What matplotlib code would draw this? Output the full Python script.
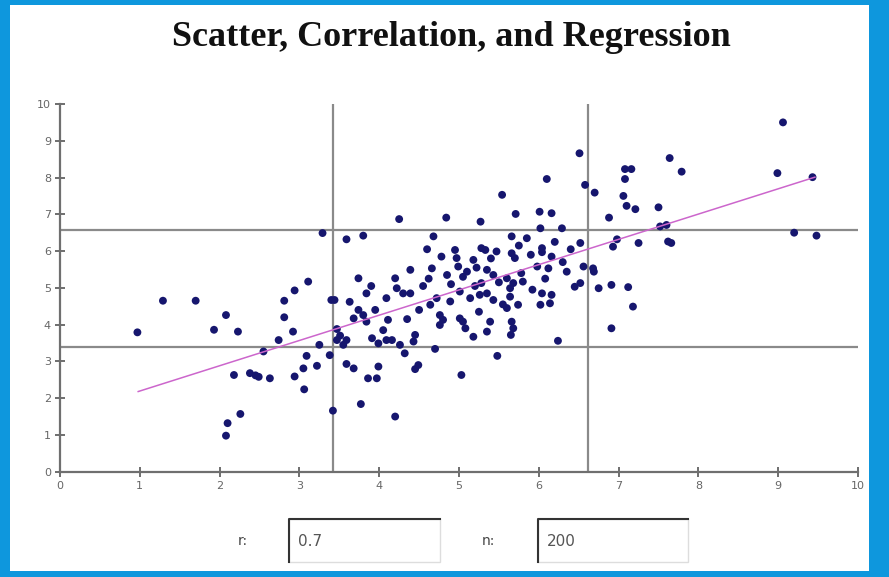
import matplotlib
matplotlib.use("Agg")
import matplotlib.pyplot as plt
from matplotlib.patches import Rectangle
from matplotlib.lines import Line2D

# ---------------- data ----------------
x_vals = [0.97, 1.29, 1.70, 1.93, 2.08, 2.08, 2.10, 2.26, 2.23, 2.18,
          2.38, 2.45, 2.49, 2.63, 2.55, 2.74, 2.81, 2.81, 2.92, 2.94,
          2.94, 3.05, 3.06, 3.09, 3.11, 3.22, 3.25, 3.29, 3.38, 3.40,
          3.44, 3.42, 3.47, 3.51, 3.59, 3.47, 3.55, 3.59, 3.59, 3.63,
          3.68, 3.68, 3.74, 3.74, 3.77, 3.80, 3.80, 3.84, 3.84, 3.86,
          3.91, 3.95, 3.97, 3.99, 3.99, 4.09, 4.09, 4.11, 4.16, 4.20,
          4.20, 4.22, 4.25, 4.26, 4.30, 4.32, 4.39, 4.39, 4.43, 4.45,
          4.45, 4.49, 4.64, 4.66, 4.68, 4.70, 4.72, 4.76, 4.76, 4.80,
          4.78, 4.84, 4.89, 4.95, 4.97, 4.99, 5.01, 5.01, 5.03, 5.05,
          5.08, 5.10, 5.14, 5.18, 5.18, 5.26, 5.27, 5.28, 5.28, 5.33,
          5.35, 5.35, 5.35, 5.39, 5.43, 5.43, 5.47, 5.48, 5.54, 5.60,
          5.60, 5.64, 5.64, 5.66, 5.66, 5.66, 5.65, 5.68, 5.68, 5.70,
          5.71, 5.74, 5.78, 5.80, 5.85, 5.98, 6.01, 6.02, 6.02, 6.04,
          6.04, 6.04, 6.10, 6.12, 6.14, 6.16, 6.16, 6.16, 6.24, 6.29,
          6.35, 6.45, 6.51, 6.52, 6.52, 6.56, 6.58, 6.68, 6.69, 6.70,
          6.75, 6.88, 6.91, 6.91, 6.93, 6.98, 7.06, 7.08, 7.16, 7.08,
          7.10, 7.12, 7.18, 7.21, 7.25, 7.50, 7.52, 7.60, 7.62, 7.66,
          7.64, 7.79, 8.99, 9.06, 9.20, 9.43, 9.48,
          4.55, 4.62, 4.85, 4.90, 5.05, 5.20, 5.22, 5.40, 5.50, 5.55,
          5.75, 5.90, 5.92, 6.08, 6.20, 6.30, 4.50, 4.35, 3.90, 4.05,
          5.25, 6.40, 4.60]
y_vals = [3.79, 4.65, 4.65, 3.86, 4.26, 0.98, 1.32, 1.57, 3.81, 2.63,
          2.68, 2.62, 2.58, 2.54, 3.27, 3.58, 4.65, 4.20, 3.81, 4.93,
          2.59, 2.81, 2.24, 3.15, 5.17, 2.88, 3.45, 6.49, 3.17, 4.67,
          4.67, 1.66, 3.88, 3.70, 3.58, 3.58, 3.45, 6.32, 2.93, 4.62,
          2.81, 4.17, 5.26, 4.40, 1.84, 6.42, 4.26, 4.85, 4.08, 2.54,
          3.63, 4.40, 2.54, 3.49, 2.86, 4.72, 3.58, 4.13, 3.58, 5.26,
          1.50, 4.99, 6.87, 3.45, 4.85, 3.22, 4.85, 5.49, 3.54, 3.72,
          2.79, 2.90, 4.54, 5.53, 6.40, 3.34, 4.72, 4.26, 3.99, 4.13,
          5.85, 6.91, 4.63, 6.03, 5.81, 5.58, 4.90, 4.17, 2.63, 4.08,
          3.90, 5.44, 4.72, 5.76, 3.67, 4.81, 6.80, 6.08, 5.13, 6.03,
          5.49, 4.85, 3.81, 4.08, 5.35, 4.67, 5.99, 3.15, 7.53, 5.26,
          4.45, 4.99, 4.76, 6.40, 5.94, 4.08, 3.72, 3.90, 5.13, 5.81,
          7.01, 4.54, 5.40, 5.17, 6.35, 5.58, 7.07, 6.62, 4.54, 6.08,
          5.97, 4.85, 7.96, 5.53, 4.58, 7.03, 5.85, 4.81, 3.56, 6.62,
          5.44, 5.03, 8.66, 6.22, 5.13, 5.58, 7.80, 5.53, 5.44, 7.59,
          4.99, 6.91, 5.08, 3.90, 6.12, 6.32, 7.50, 8.23, 8.23, 7.96,
          7.23, 5.02, 4.49, 7.14, 6.22, 7.19, 6.67, 6.71, 6.26, 6.22,
          8.53, 8.16, 8.12, 9.50, 6.50, 8.01, 6.42,
          5.05, 5.25, 5.35, 5.10, 5.30, 5.05, 5.55, 5.80, 5.15, 4.55,
          6.15, 5.90, 4.95, 5.25, 6.25, 5.70, 4.40, 4.15, 5.05, 3.85,
          4.35, 6.05, 6.05]

sd_x = [3.42, 6.62]          # vertical reference lines
sd_y = [3.40, 6.58]          # horizontal reference lines
reg_x = [0.98, 9.46]         # regression line ends
reg_y = [2.18, 8.01]
ticks = list(range(0, 11))
title = "Scatter, Correlation, and Regression"
r_value = "0.7"
n_value = "200"

# ---------------- figure ----------------
W, H = 889, 577
fig = plt.figure(figsize=(W / 100, H / 100), dpi=100)
fig.patch.set_facecolor("#0e97dd")


def fx(px):
    return px / W


def fy(py):
    return 1 - py / H


# white panel
fig.patches.append(Rectangle((fx(10), fy(571)), fx(869) - fx(10), fy(5) - fy(571),
                             transform=fig.transFigure, facecolor="white",
                             edgecolor="none", zorder=-5))

fig.text(fx(451), fy(37), title, ha="center", va="center",
         family="Liberation Serif", fontweight="bold", fontsize=26, color="#111111")

ax = fig.add_axes([fx(60), fy(471.7), fx(858) - fx(60), fy(104) - fy(471.7)])
ax.set_zorder(3)
ax.set_facecolor("none")
ax.set_xlim(0, 10)
ax.set_ylim(0, 10)

grey = "#8a8a8a"
for v in sd_x:
    ax.axvline(v, color=grey, lw=1.6, zorder=1)
for h in sd_y:
    ax.axhline(h, color=grey, lw=1.6, zorder=1)

ax.scatter(x_vals, y_vals, s=32, color="#16166e", edgecolors="none", zorder=3,
           clip_on=False)
ax.plot(reg_x, reg_y, color="#cc66cc", lw=1.1, zorder=4)

for side in ["top", "right"]:
    ax.spines[side].set_visible(False)
for side in ["left", "bottom"]:
    ax.spines[side].set_color("#6f6f6f")
    ax.spines[side].set_linewidth(1.6)

ax.set_xticks(ticks)
ax.set_yticks(ticks)
ax.set_xticklabels([str(t) for t in ticks])
ax.set_yticklabels([str(t) for t in ticks])
ax.tick_params(direction="inout", length=7, width=1.2, color="#555555",
               labelsize=8, labelcolor="#666666", pad=3)

# bottom input boxes
def field(label, lx, bx0, bx1, value):
    fig.text(fx(lx), fy(541), label, ha="center", va="center",
             family="DejaVu Sans", fontsize=10, color="#444444")
    y0, y1 = 519, 562
    fig.patches.append(Rectangle((fx(bx0), fy(y1)), fx(bx1) - fx(bx0), fy(y0) - fy(y1),
                                 transform=fig.transFigure, facecolor="white",
                                 edgecolor="#dddddd", lw=1.0, zorder=1))
    fig.lines.append(Line2D([fx(bx0), fx(bx0), fx(bx1)], [fy(y1), fy(y0), fy(y0)],
                            transform=fig.transFigure, color="#333333", lw=1.5,
                            zorder=2))
    fig.text(fx(bx0 + 9), fy(541), value, ha="left", va="center",
             family="DejaVu Sans", fontsize=11, color="#555555")


field("r:", 243, 289, 440, r_value)
field("n:", 488, 538, 688, n_value)

fig.savefig("out.png", dpi=100, facecolor=fig.get_facecolor())
